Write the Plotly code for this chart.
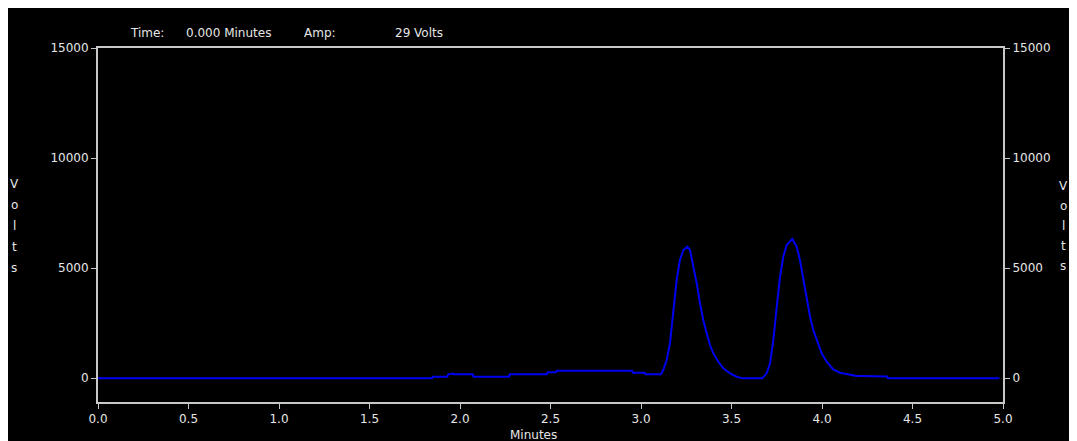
import plotly.graph_objects as go

# Chromatogram trace
minutes = [0.0, 1.845, 1.85, 1.93, 1.935, 1.96, 1.965, 2.07, 2.075, 2.27, 2.275, 2.48, 2.485,
           2.53, 2.535, 2.95, 2.955, 3.02, 3.025, 3.11, 3.123, 3.142, 3.160, 3.179, 3.197,
           3.215, 3.234, 3.256, 3.271, 3.289, 3.308, 3.326, 3.344, 3.363, 3.381, 3.400,
           3.427, 3.455, 3.492, 3.529, 3.56, 3.67, 3.694, 3.713, 3.731, 3.750, 3.768, 3.786,
           3.805, 3.836, 3.860, 3.878, 3.897, 3.915, 3.934, 3.952, 3.970, 3.998, 4.026,
           4.062, 4.099, 4.136, 4.191, 4.22, 4.36, 4.365, 4.98]
volts = [-15, -15, 60, 60, 170, 200, 170, 170, 60, 60, 170, 170, 260,
         260, 330, 330, 240, 240, 170, 170, 364, 820, 1577, 2940, 4455,
         5364, 5818, 5970, 5818, 5060, 4300, 3395, 2636, 2030, 1500, 1120,
         740, 440, 214, 60, -15, -15, 214, 670, 1727, 3240, 4600, 5510,
         6045, 6318, 5970, 5364, 4455, 3545, 2786, 2180, 1727, 1120, 740,
         390, 240, 170, 90, 90, 70, -15, -15]

x_ticks = [0.0, 0.5, 1.0, 1.5, 2.0, 2.5, 3.0, 3.5, 4.0, 4.5, 5.0]
y_ticks = [0, 5000, 10000, 15000]
y_range = [-1090, 15000]
axis_letters = ["V", "o", "l", "t", "s"]

# figure pixel geometry (page is offset by the 8px body margin)
W, H = 1077, 441
L, R, T, B = 90, 995, 40, 394
pw, ph = R - L, B - T

def px(x):
    return (x - L) / pw

def py(y):
    return (B - y) / ph

FONT = dict(family="DejaVu Sans, Liberation Sans, sans-serif", size=12, color="#e6e6e6")
AX = "#c8c8c8"

fig = go.Figure()
fig.add_trace(go.Scatter(x=minutes, y=volts, mode="lines",
                         line=dict(color="#0000f0", width=2), showlegend=False,
                         hoverinfo="skip"))
fig.add_trace(go.Scatter(x=[0], y=[0], yaxis="y2", mode="markers",
                         marker=dict(opacity=0), showlegend=False, hoverinfo="skip"))

fig.update_layout(
    width=W, height=H,
    margin=dict(l=L, r=W - R, t=T, b=H - B),
    paper_bgcolor="black", plot_bgcolor="black",
    font=FONT,
    xaxis=dict(range=[0, 5], tickvals=x_ticks, ticktext=[f"{v:.1f}" for v in x_ticks],
               showgrid=False, zeroline=False, showline=True, linecolor=AX, linewidth=2,
               mirror=True, ticks="outside", ticklen=5, tickcolor=AX, tickwidth=1,
               tickfont=FONT),
    yaxis=dict(range=y_range, tickvals=y_ticks, ticktext=[str(v) for v in y_ticks],
               showgrid=False, zeroline=False,
               showline=True, linecolor=AX, linewidth=2, ticks="outside", ticklen=5,
               tickcolor=AX, tickwidth=1, tickfont=FONT, ticklabelstandoff=0),
    yaxis2=dict(range=y_range, tickvals=y_ticks, ticktext=[str(v) for v in y_ticks],
                overlaying="y", side="right",
                showgrid=False, zeroline=False, showline=True, linecolor=AX, linewidth=2,
                ticks="outside", ticklen=5, tickcolor=AX, tickwidth=1, tickfont=FONT,
                ticklabelstandoff=0),
)

def ann(text, x, y, xanchor="left"):
    fig.add_annotation(text=text, xref="paper", yref="paper", x=px(x), y=py(y),
                       xanchor=xanchor, yanchor="middle", showarrow=False, font=FONT)

ann("Time:", 120, 25)
ann("0.000 Minutes", 176, 25)
ann("Amp:", 294, 25)
ann("29 Volts", 385, 25)
ann("Minutes", 525, 427, "center")

for i, ch in enumerate(axis_letters):
    ann(ch, 6, 176 + 21 * i, "center")
    ann(ch, 1055, 178 + 20 * i, "center")

fig.write_html("out.html",
               post_script="document.documentElement.style.overflow='hidden';"
                           "document.body.style.overflow='hidden';")
